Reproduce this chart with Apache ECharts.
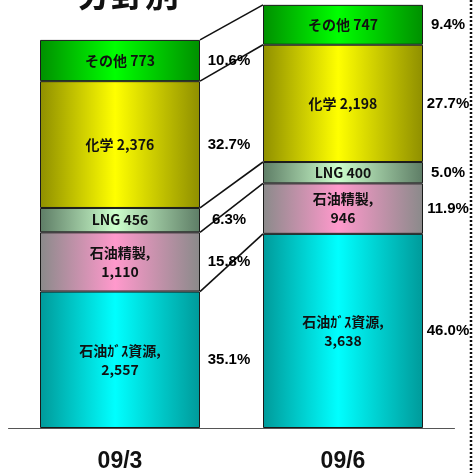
<!DOCTYPE html>
<html>
<head>
<meta charset="utf-8">
<script src="https://cdn.jsdelivr.net/npm/echarts@6/dist/echarts.min.js"></script>
<style>html,body{margin:0;padding:0;background:#fff}#c{width:473px;height:473px}</style>
</head>
<body>
<div id="c"></div>
<script>
// ---- data ----
const categories = ['09/3', '09/6'];
const segmentNames = ['石油ｶﾞｽ資源,', '石油精製,', 'LNG', '化学', 'その他'];
const gasValues = [2557, 3638];
const refiningValues = [1110, 946];
const lngValues = [456, 400];
const chemValues = [2376, 2198];
const otherValues = [773, 747];
const pct0903 = ['35.1%', '15.8%', '6.3%', '32.7%', '10.6%'];
const pct0906 = ['46.0%', '11.9%', '5.0%', '27.7%', '9.4%'];
const titleText = '分野別';

const seriesValues = [gasValues, refiningValues, lngValues, chemValues, otherValues];
const twoLine = [true, true, false, false, false];
const colors = [
  ['#009a9a', '#00ffff'],
  ['#8a8a8a', '#ff99cc'],
  ['#5e7d66', '#ccffcc'],
  ['#8f8f00', '#ffff00'],
  ['#009000', '#00ff00']
];
const BAR_W = 160;

function fmt(v) { return v.toLocaleString('en-US'); }

const chart = echarts.init(document.getElementById('c'));

const barSeries = seriesValues.map((vals, i) => ({
  type: 'bar',
  name: segmentNames[i],
  stack: 'total',
  barWidth: BAR_W,
  data: vals,
  itemStyle: {
    borderColor: '#1a1a1a',
    borderWidth: 1,
    color: new echarts.graphic.LinearGradient(0, 0, 1, 0, [
      { offset: 0, color: colors[i][0] },
      { offset: 0.47, color: colors[i][1] },
      { offset: 1, color: colors[i][0] }
    ])
  },
  label: {
    show: true,
    position: 'inside',
    color: '#111',
    fontSize: 14,
    fontWeight: 'bold',
    fontFamily: 'Noto Sans CJK JP',
    lineHeight: 19,
    formatter: p => twoLine[i] ? segmentNames[i] + '\n' + fmt(p.value) : segmentNames[i] + ' ' + fmt(p.value)
  },
  z: 3
}));

const connectorSeries = {
  type: 'custom',
  data: [[0, 0]],
  z: 5,
  silent: true,
  renderItem: function (params, api) {
    const children = [];
    let c0 = 0, c1 = 0;
    const pcts = [pct0903, pct0906];
    for (let k = 0; k < seriesValues.length; k++) {
      const a0 = c0, a1 = c1;
      c0 += seriesValues[k][0];
      c1 += seriesValues[k][1];
      const p0 = api.coord([0, c0]);
      const p1 = api.coord([1, c1]);
      const q0 = api.coord([0, a0]);
      const q1 = api.coord([1, a1]);
      const x0 = p0[0] + BAR_W / 2;
      const x1 = p1[0] - BAR_W / 2;
      children.push({
        type: 'line',
        shape: { x1: x0, y1: p0[1], x2: x1, y2: p1[1] },
        style: { stroke: '#111', lineWidth: 1.6 }
      });
      children.push({
        type: 'text',
        z2: 10,
        style: {
          text: pcts[0][k], x: x0 + 29, y: (p0[1] + q0[1]) / 2,
          align: 'center', verticalAlign: 'middle',
          fill: '#000', font: 'bold 15px "Liberation Sans", Arial, sans-serif'
        }
      });
      children.push({
        type: 'text',
        z2: 10,
        style: {
          text: pcts[1][k], x: p1[0] + BAR_W / 2 + 25, y: (p1[1] + q1[1]) / 2,
          align: 'center', verticalAlign: 'middle',
          fill: '#000', font: 'bold 15px "Liberation Sans", Arial, sans-serif'
        }
      });
    }
    return { type: 'group', children: children };
  }
};

chart.setOption({
  animation: false,
  grid: { left: 8.5, right: 18.5, top: 0, bottom: 45 },
  xAxis: {
    type: 'category',
    data: categories,
    axisLine: { show: true, lineStyle: { color: '#555', width: 1 } },
    axisTick: { show: false },
    axisLabel: {
      color: '#111', fontSize: 23, fontWeight: 'bold', margin: 22,
      fontFamily: '"Liberation Sans", Arial, sans-serif'
    }
  },
  yAxis: { type: 'value', min: 0, max: 8020, show: false, splitLine: { show: false } },
  series: barSeries.concat([connectorSeries]),
  graphic: [
    {
      type: 'text',
      left: 77, top: -23,
      style: { text: titleText, fill: '#111', font: 'bold 34px "Noto Sans CJK JP"' }
    },
    {
      type: 'line',
      shape: { x1: 471, y1: 0, x2: 471, y2: 473 },
      style: { stroke: '#111', lineWidth: 2.5, lineDash: [2, 2] }
    }
  ]
});
</script>
</body>
</html>
